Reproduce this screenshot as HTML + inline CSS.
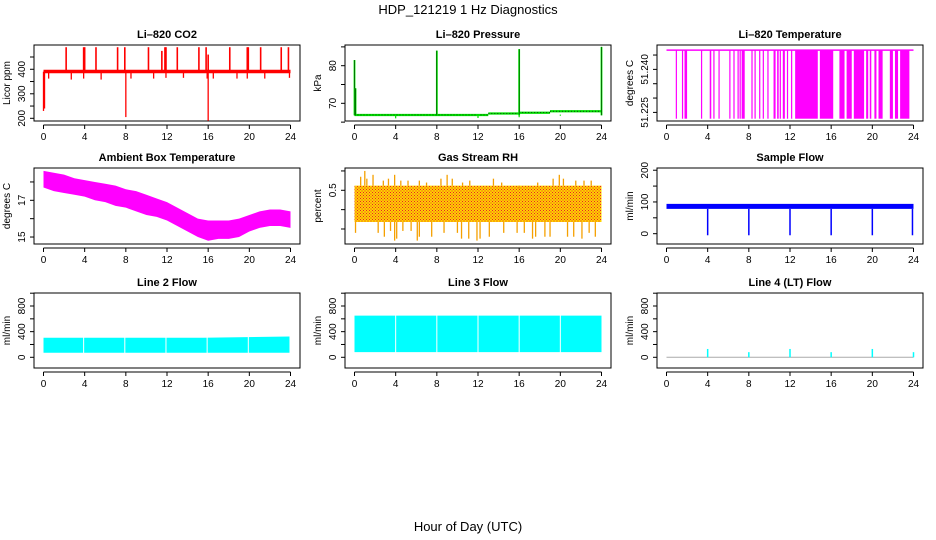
<!DOCTYPE html>
<html><head><meta charset="utf-8"><style>
body{margin:0;background:#fff;width:936px;height:540px;overflow:hidden}
svg{display:block;font-family:"Liberation Sans",Arial,sans-serif}
</style></head><body>
<svg id="s" width="936" height="540">
<defs>
<pattern id="rhpat" width="3" height="3" patternUnits="userSpaceOnUse">
<rect width="3" height="3" fill="#ffd200"/><rect width="1" height="1" fill="#e8202a"/><rect x="1.5" y="1.5" width="1" height="1" fill="#e8202a"/>
</pattern>
</defs>
<text x="468" y="14" text-anchor="middle" font-size="13">HDP_121219  1 Hz Diagnostics</text>
<text x="468" y="531" text-anchor="middle" font-size="13">Hour of Day (UTC)</text>
</svg>
<script>
// ---- data arrays ----
const xTicks=[0,4,8,12,16,20,24];
// CO2
const co2Base=[390,390];
const co2SpikeHours=[2.2,3.9,4.0,5.1,7.2,7.9,10.2,11.5,11.8,11.9,13.0,15.1,15.8,16.0,18.1,19.8,19.9,21.1,23.1,23.8];
const co2SpikeVals=[490,490,490,490,490,490,490,475,490,490,490,490,490,460,490,490,490,490,490,490];
const co2DipHours=[0.0,0.1,0.5,2.7,3.9,5.6,8.0,8.5,10.7,11.9,13.6,15.9,16.0,16.5,18.8,19.8,21.5,23.9];
const co2DipVals=[230,240,362,358,362,358,205,362,362,365,365,362,190,362,362,362,362,365];
// Pressure
const presStepHours=[0,13,16,19,24];
const presStepVals=[66.9,67.3,67.5,67.9,67.9];
const presSpikeHours=[0.0,0.1,8.0,16.0,24.0];
const presSpikeVals=[81.5,74,84.0,84.4,85.0];
const presDipHours=[4,12,16,20];
const presDipVals=[66.0,66.1,66.3,66.7];
// Li-820 Temperature low intervals
const tHigh=51.2467, tLow=51.2228;
const tLowStart=[0.9,1.5,1.75,3.35,4.2,4.55,5.05,6.1,6.5,6.9,7.1,7.3,8.25,8.55,9.0,9.35,9.8,10.4,10.75,11.0,11.3,11.7,12.1,12.5,14.9,16.8,17.5,18.2,19.4,19.75,20.2,20.6,21.7,22.2,22.7];
const tLowEnd=[1.0,1.6,2.0,3.45,4.35,4.65,5.15,6.2,6.6,7.0,7.2,7.6,8.35,8.65,9.1,9.45,9.9,10.6,10.9,11.1,11.5,11.8,12.2,14.7,16.2,17.3,18.0,19.2,19.6,19.9,20.4,21.0,22.0,22.5,23.6];
// Ambient box temperature envelope (hourly)
const ambHours=[0,1,2,3,4,5,6,7,8,9,10,11,12,13,14,15,16,17,18,19,20,21,22,23,24];
const ambUpper=[18.6,18.5,18.4,18.2,18.1,18.0,17.9,17.8,17.6,17.5,17.3,17.1,16.9,16.6,16.3,16.0,15.9,15.9,15.9,16.0,16.2,16.4,16.5,16.5,16.4];
const ambLower=[17.7,17.5,17.4,17.3,17.2,17.0,16.9,16.7,16.6,16.4,16.2,16.1,15.9,15.6,15.3,15.0,14.8,14.9,14.9,15.0,15.3,15.5,15.6,15.6,15.5];
// Gas stream RH
const rhUpper=[0.62,0.62];
const rhLower=[-0.32,-0.32];
const rhUpHours=[0.6,1.0,1.2,1.8,2.8,3.3,3.9,4.5,5.2,6.3,7.0,8.4,9.0,9.5,10.5,11.2,13.5,14.3,16.0,17.8,19.3,19.9,20.3,21.5,22.3,23.0];
const rhUpVals=[0.85,1.0,0.8,0.9,0.75,0.8,0.9,0.75,0.75,0.75,0.7,0.8,0.9,0.8,0.7,0.75,0.8,0.7,0.55,0.7,0.8,0.9,0.8,0.75,0.75,0.75];
const rhDnHours=[0.1,2.3,2.9,3.5,3.9,4.1,4.7,5.5,6.1,6.3,7.5,8.7,10.0,10.4,11.1,11.9,12.2,13.1,14.5,15.8,16.5,17.3,17.6,18.5,19.0,20.7,21.3,22.1,22.8,23.4];
const rhDnVals=[-0.6,-0.6,-0.7,-0.55,-0.8,-0.75,-0.55,-0.55,-0.8,-0.7,-0.7,-0.6,-0.6,-0.75,-0.75,-0.8,-0.75,-0.7,-0.6,-0.6,-0.6,-0.75,-0.7,-0.7,-0.7,-0.7,-0.7,-0.75,-0.6,-0.7];
// Sample flow
const sfUpper=[94,94], sfLower=[78,78];
const sfDipHours=[4,8,12,16,20,23.9];
const sfDipVals=[-5,-5,-5,-5,-5,-5];
// Line 2 flow
const l2Hours=[0,15.5,23.9];
const l2Upper=[305,305,325];
const l2Lower=[70,70,70];
const l2Gaps=[3.9,7.9,11.9,15.9,19.9];
// Line 3 flow
const l3Upper=[650,650];
const l3Lower=[80,80];
const l3Gaps=[4,8,12,16,20];
// Line 4 flow
const l4SpikeHours=[4,8,12,16,20,24];
const l4SpikeVals=[130,80,130,80,130,80];

// ---- layout ----
const NS='http://www.w3.org/2000/svg';
const svg=document.getElementById('s');
const cols=[34,345,657];
const rows=[[45,121],[168,244],[293,368]];
function el(tag,attrs,parent){const e=document.createElementNS(NS,tag);for(const k in attrs)e.setAttribute(k,attrs[k]);(parent||svg).appendChild(e);return e;}

function panel(c,r,name,title,ytitle,yTop,yBot,yTicks,yLabels,showXLabels){
  const L=cols[c],R=L+266,T=rows[r][0],B=rows[r][1];
  const g=el('g',{});
  
  
  const x=h=>L+9.5+h*(247/24);
  const y=v=>T+(yTop-v)/(yTop-yBot)*(B-T);
  const t=el('text',{x:(L+R)/2,y:T-7,'text-anchor':'middle','font-size':11,'font-weight':'bold'},g);t.textContent=title;
  
  
  const box=el('rect',{x:L,y:T,width:R-L,height:B-T,fill:'none',stroke:'#000','stroke-width':1},g);
  
  
  const yt=el('text',{transform:`translate(${L-24},${(T+B)/2}) rotate(-90)`,'text-anchor':'middle','font-size':10},g);yt.textContent=ytitle;
  
  
  const ya=el('g',{},g);
  
  
  yTicks.forEach(v=>{el('line',{x1:L,x2:L-4,y1:y(v),y2:y(v),stroke:'#000'},ya);});
  yLabels.forEach(v=>{const tx=el('text',{transform:`translate(${L-9},${y(v)}) rotate(-90)`,'text-anchor':'middle','font-size':10},ya);tx.textContent=String(v);});
  const xa=el('g',{},g);
  
  
  el('line',{x1:x(0),x2:x(24),y1:B+4,y2:B+4,stroke:'#000'},xa);
  xTicks.forEach(h=>{el('line',{x1:x(h),x2:x(h),y1:B+4,y2:B+8,stroke:'#000'},xa);
    if(showXLabels){const tx=el('text',{x:x(h),y:B+19,'text-anchor':'middle','font-size':10},xa);tx.textContent=String(h);}});
  const d=el('g',{},g);
  
  
  return {x,y,d};
}
function vline(p,h,v1,v2,col,w){el('line',{x1:p.x(h),x2:p.x(h),y1:p.y(v1),y2:p.y(v2),stroke:col,'stroke-width':w||1.2},p.d);}
function band(p,hs,up,lo,fill){let pts=hs.map((h,i)=>p.x(h)+','+p.y(up[i]));for(let i=hs.length-1;i>=0;i--)pts.push(p.x(hs[i])+','+p.y(lo[i]));el('polygon',{points:pts.join(' '),fill:fill},p.d);}

// CO2
let p=panel(0,0,'co2','Li\u2013820 CO2','Licor ppm',499,189,[200,250,300,350,400,450],[200,300,400],true);
band(p,[0,24],[co2Base[0]+8,co2Base[1]+8],[co2Base[0]-6,co2Base[1]-6],'#ff0000');
co2SpikeHours.forEach((h,i)=>vline(p,h,co2Base[0],co2SpikeVals[i],'#ff0000',1.6));
co2DipHours.forEach((h,i)=>vline(p,h,co2Base[0],co2DipVals[i],'#ff0000',1.3));
// Pressure
p=panel(1,0,'pressure','Li\u2013820 Pressure','kPa',85.5,65.3,[65,70,75,80,85],[70,80],true);
for(let i=0;i<presStepHours.length-1;i++){el('line',{x1:p.x(presStepHours[i]),x2:p.x(presStepHours[i+1]),y1:p.y(presStepVals[i]),y2:p.y(presStepVals[i]),stroke:'#00dd00','stroke-width':2.2},p.d);
el('line',{x1:p.x(presStepHours[i]),x2:p.x(presStepHours[i+1]),y1:p.y(presStepVals[i]),y2:p.y(presStepVals[i]),stroke:'#000','stroke-width':0.6,'stroke-dasharray':'1,2'},p.d);}
presSpikeHours.forEach((h,i)=>{vline(p,h,66.8,presSpikeVals[i],'#00ee00',1.8);vline(p,h,66.8,presSpikeVals[i],'#000',0.5);});
presDipHours.forEach((h,i)=>vline(p,h,67,presDipVals[i],'#00dd00',1.2));
// Li-820 Temperature
p=panel(2,0,'li820-temperature','Li\u2013820 Temperature','degrees C',51.2485,51.222,[51.225,51.230,51.235,51.240,51.245],['51.225','51.240'],true);
el('line',{x1:p.x(0),x2:p.x(24),y1:p.y(tHigh),y2:p.y(tHigh),stroke:'#ff00ff','stroke-width':1.5},p.d);
tLowStart.forEach((s,i)=>{const e=tLowEnd[i];el('rect',{x:p.x(s),y:p.y(tHigh),width:Math.max(1.2,p.x(e)-p.x(s)),height:p.y(tLow)-p.y(tHigh),fill:'#ff00ff'},p.d);});
// Ambient
p=panel(0,1,'ambient-temperature','Ambient Box Temperature','degrees C',18.76,14.62,[15,16,17,18],[15,17],true);
band(p,ambHours,ambUpper,ambLower,'#ff00ff');
// RH
p=panel(1,1,'gas-stream-rh','Gas Stream RH','percent',1.076,-0.888,[-0.5,0,0.5,1],['\u22120.5','0.5'],true);
band(p,[0,24],rhUpper,rhLower,'url(#rhpat)');
rhUpHours.forEach((h,i)=>vline(p,h,rhUpper[0],rhUpVals[i],'#f5a000',1.3));
rhDnHours.forEach((h,i)=>vline(p,h,rhLower[0],rhDnVals[i],'#f5a000',1.3));
// Sample flow
p=panel(2,1,'sample-flow','Sample Flow','ml/min',207,-32.5,[0,50,100,150,200],[0,100,200],true);
band(p,[0,24],sfUpper,sfLower,'#0000ff');
sfDipHours.forEach((h,i)=>vline(p,h,sfLower[0],sfDipVals[i],'#0000ff',1.5));
// Line 2
p=panel(0,2,'line2-flow','Line 2 Flow','ml/min',1003,-167,[0,200,400,600,800,1000],[0,400,800],true);
band(p,l2Hours,l2Upper,l2Lower,'#00ffff');
l2Gaps.forEach(h=>vline(p,h,l2Lower[0]-10,l2Upper[2]+10,'#ffffff',1));
// Line 3
p=panel(1,2,'line3-flow','Line 3 Flow','ml/min',1003,-167,[0,200,400,600,800,1000],[0,400,800],true);
band(p,[0,24],l3Upper,l3Lower,'#00ffff');
l3Gaps.forEach(h=>vline(p,h,l3Lower[0]-10,l3Upper[0]+10,'#ffffff',1));
// Line 4
p=panel(2,2,'line4-flow','Line 4 (LT) Flow','ml/min',1003,-167,[0,200,400,600,800,1000],[0,400,800],true);
el('line',{x1:p.x(0),x2:p.x(24),y1:p.y(0),y2:p.y(0),stroke:'#aaaaaa','stroke-width':1},p.d);
l4SpikeHours.forEach((h,i)=>vline(p,h,0,l4SpikeVals[i],'#00ffff',1.5));
</script>
</body></html>
